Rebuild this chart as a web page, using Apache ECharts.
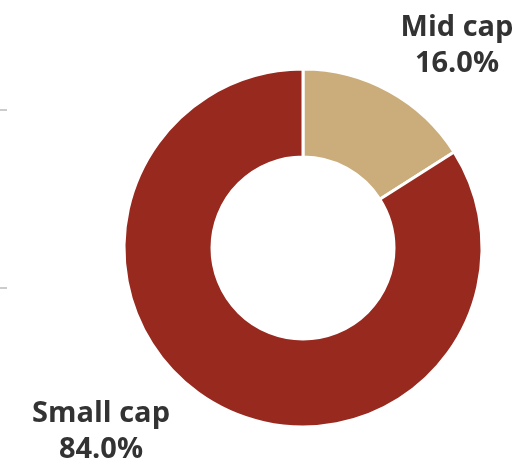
<!DOCTYPE html>
<html>
<head>
<meta charset="utf-8">
<script src="https://cdn.jsdelivr.net/npm/echarts@6/dist/echarts.min.js"></script>
<style>html,body{margin:0;padding:0;background:#fff;}#c{width:518px;height:459px;}</style>
</head>
<body>
<div id="c"></div>
<script>
const categories = ['Mid cap', 'Small cap'];
const values = [16.0, 84.0];
const colors = ['#CBAD7B', '#98291F'];

const chart = echarts.init(document.getElementById('c'), null, {renderer: 'canvas'});
const labelSpots = [[457, 46], [101, 432]];
chart.setOption({
  animation: false,
  graphic: [
    {type: 'line', shape: {x1: 0, y1: 110, x2: 7, y2: 110}, style: {stroke: '#cccccc', lineWidth: 2}},
    {type: 'line', shape: {x1: 0, y1: 288, x2: 7, y2: 288}, style: {stroke: '#cccccc', lineWidth: 2}}
  ],
  series: [{
    type: 'pie',
    center: [303, 248],
    radius: [91, 179],
    startAngle: 90,
    clockwise: true,
    itemStyle: {borderColor: '#ffffff', borderWidth: 3},
    label: {
      show: true,
      position: 'outside',
      formatter: p => p.name + '\n' + p.value.toFixed(1) + '%',
      fontFamily: 'Open Sans',
      fontWeight: 'bold',
      fontSize: 29,
      lineHeight: 36,
      color: '#333333',
      align: 'center',
      overflow: 'none'
    },
    labelLine: {show: false},
    labelLayout: p => ({x: labelSpots[p.dataIndex][0], y: labelSpots[p.dataIndex][1], align: 'center', verticalAlign: 'middle', width: 200}),
    data: categories.map((c, i) => ({name: c, value: values[i], itemStyle: {color: colors[i]}}))
  }]
});
</script>
</body>
</html>
